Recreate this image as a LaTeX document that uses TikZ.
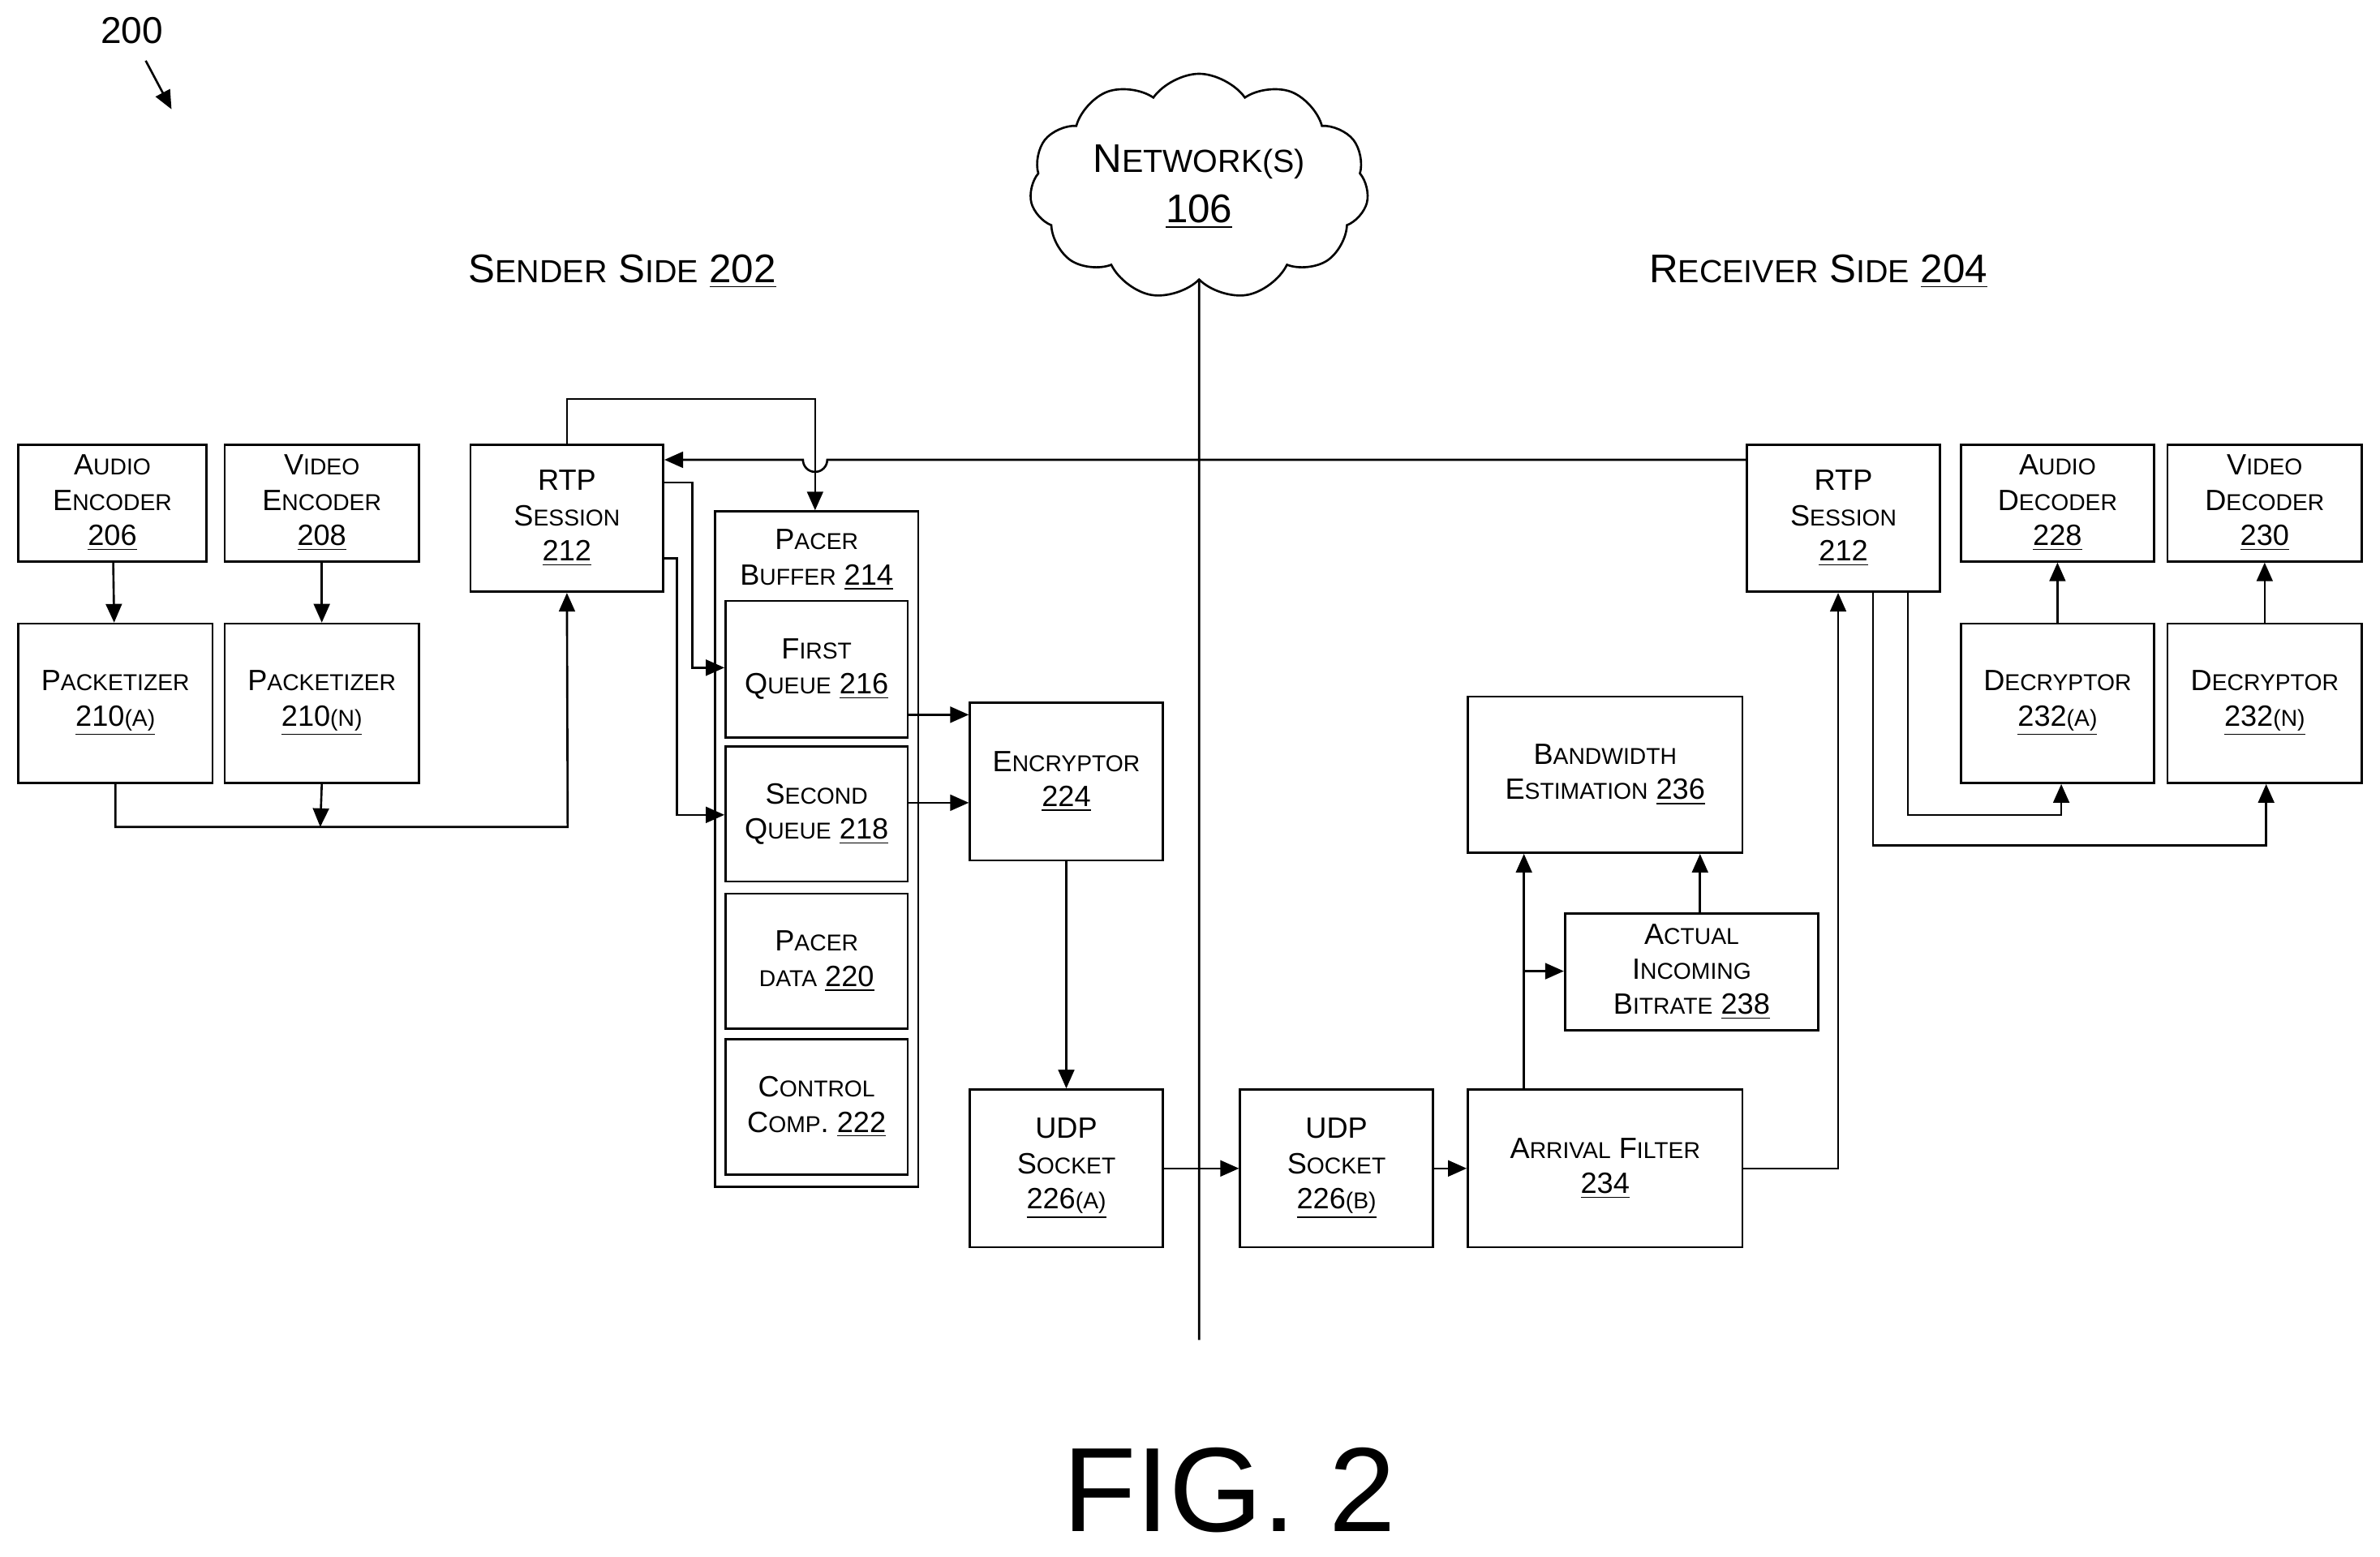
\documentclass[tikz,border=0pt]{standalone}
\usepackage{fontspec}
\setmainfont{Liberation Sans}
\usetikzlibrary{shapes.symbols,arrows.meta}
\newcommand\sk[1]{{\fontsize{8.6}{10}\selectfont\uppercase{#1}}}
\newcommand\ul[1]{\underline{#1}}
\begin{document}
\begin{tikzpicture}[x=0.02cm,y=-0.02cm,line width=0.8pt,
  box/.style={draw,align=center,font=\fontsize{11}{13.2}\selectfont,inner sep=0pt},
  arr/.style={-{Triangle[length=7pt,width=6pt]}},
  hd/.style={font=\fontsize{15}{18}\selectfont}]
\useasboundingbox (0,0) rectangle (1568,1025.6);
\newcommand\bx[6]{\node[box,minimum width={(#4-#2)*0.02cm},minimum height={(#5-#3)*0.02cm}] (#1) at ({(#2+#4)/2},{(#3+#5)/2}) {#6};}
\bx{ae}{12}{293}{136}{370}{A\sk{udio}\\E\sk{ncoder}\\\ul{206}}
\bx{ve}{148}{293}{276}{370}{V\sk{ideo}\\E\sk{ncoder}\\\ul{208}}
\bx{pa}{12}{411}{140}{516}{P\sk{acketizer}\\\ul{210\sk{(a)}}}
\bx{pn}{148}{411}{276}{516}{P\sk{acketizer}\\\ul{210\sk{(n)}}}
\bx{rtpl}{310}{293}{437}{390}{RTP\\S\sk{ession}\\\ul{212}}
\node[draw,minimum width={134*0.02cm},minimum height={445*0.02cm},inner sep=0pt] (pb) at (538,559.5) {};
\node[align=center,font=\fontsize{11}{13.2}\selectfont] (pbl) at (538,369) {P\sk{acer}\\B\sk{uffer} \ul{214}};
\bx{fq}{478}{396}{598}{486}{F\sk{irst}\\Q\sk{ueue} \ul{216}}
\bx{sq}{478}{492}{598}{581}{S\sk{econd}\\Q\sk{ueue} \ul{218}}
\bx{pd}{478}{589}{598}{678}{P\sk{acer}\\\sk{data} \ul{220}}
\bx{cc}{478}{685}{598}{774}{C\sk{ontrol}\\C\sk{omp}. \ul{222}}
\bx{enc}{639}{463}{766}{567}{E\sk{ncryptor}\\\ul{224}}
\bx{ua}{639}{718}{766}{822}{UDP\\S\sk{ocket}\\\ul{226\sk{(a)}}}
\bx{ub}{817}{718}{944}{822}{UDP\\S\sk{ocket}\\\ul{226\sk{(b)}}}
\bx{af}{967}{718}{1148}{822}{A\sk{rrival} F\sk{ilter}\\\ul{234}}
\bx{bw}{967}{459}{1148}{562}{B\sk{andwidth}\\E\sk{stimation} \ul{236}}
\bx{aib}{1031}{602}{1198}{679}{A\sk{ctual}\\I\sk{ncoming}\\B\sk{itrate} \ul{238}}
\bx{rtpr}{1151}{293}{1278}{390}{RTP\\S\sk{ession}\\\ul{212}}
\bx{ad}{1292}{293}{1419}{370}{A\sk{udio}\\D\sk{ecoder}\\\ul{228}}
\bx{vd}{1428}{293}{1556}{370}{V\sk{ideo}\\D\sk{ecoder}\\\ul{230}}
\bx{da}{1292}{411}{1419}{516}{D\sk{ecryptor}\\\ul{232\sk{(a)}}}
\bx{dn}{1428}{411}{1556}{516}{D\sk{ecryptor}\\\ul{232\sk{(n)}}}
\node[cloud,draw,cloud puffs=11,cloud puff arc=110,aspect=1.75,minimum width=4.2cm,minimum height=2.5cm,align=center,font=\fontsize{15}{19}\selectfont,fill=white] (net) at (790,123) {N\sk{\fontsize{12}{14}\selectfont etwork(s)}\\\ul{106}};
\coordinate (vb) at (790,883);
\draw (net.south) -- (vb);
\node[hd] (ss) at (410,179) {S\sk{\fontsize{12}{14}\selectfont ender} S\sk{\fontsize{12}{14}\selectfont ide} \ul{202}};
\node[hd] (rs) at (1198,179) {R\sk{\fontsize{12}{14}\selectfont eceiver} S\sk{\fontsize{12}{14}\selectfont ide} \ul{204}};
\node[font=\fontsize{14}{16}\selectfont] (n200) at (87,20) {200};
\coordinate (a200s) at (96,40); \coordinate (a200e) at (113,72);
\draw[arr] (a200s) -- (a200e);
\node[font=\fontsize{45}{52}\selectfont] (fig) at (810,982) {FIG. 2};
% connectors
\draw[arr] (ae) -- (pa);
\draw[arr] (ve) -- (pn);
\draw[arr] (pa.south) |- (374,545) -- (rtpl.south);
\draw[arr] (pn.south) -- (211,545);
\draw[arr] (rtpl.north) |- (537,263) -- (pb.north -| 537,0);
\draw[arr] (rtpr.west |- 0,303) -- (545,303) arc (0:180:8) -- (rtpl.east |- 0,303);
\draw[arr] (rtpl.east |- 0,318) -| (456,440) -- (fq.west |- 0,440);
\draw[arr] (rtpl.east |- 0,368) -| (446,537) -- (sq.west |- 0,537);
\draw[arr] (fq.east |- 0,471) -- (enc.west |- 0,471);
\draw[arr] (sq.east |- 0,529) -- (enc.west |- 0,529);
\draw[arr] (enc) -- (ua);
\draw[arr] (ua) -- (ub);
\draw[arr] (ub) -- (af);
\draw[arr] (af.north -| 1004,0) -- (bw.south -| 1004,0);
\draw[arr] (1004,640) -- (aib.west |- 0,640);
\draw[arr] (aib.north -| 1120,0) -- (bw.south -| 1120,0);
\draw[arr] (af.east) -| (rtpr.south -| 1211,0);
\draw[arr] (rtpr.south -| 1257,0) |- (1358,537) -- (da.south -| 1358,0);
\draw[arr] (rtpr.south -| 1234,0) |- (1493,557) -- (dn.south -| 1493,0);
\draw[arr] (da) -- (ad);
\draw[arr] (dn) -- (vd);
\end{tikzpicture}
\end{document}
